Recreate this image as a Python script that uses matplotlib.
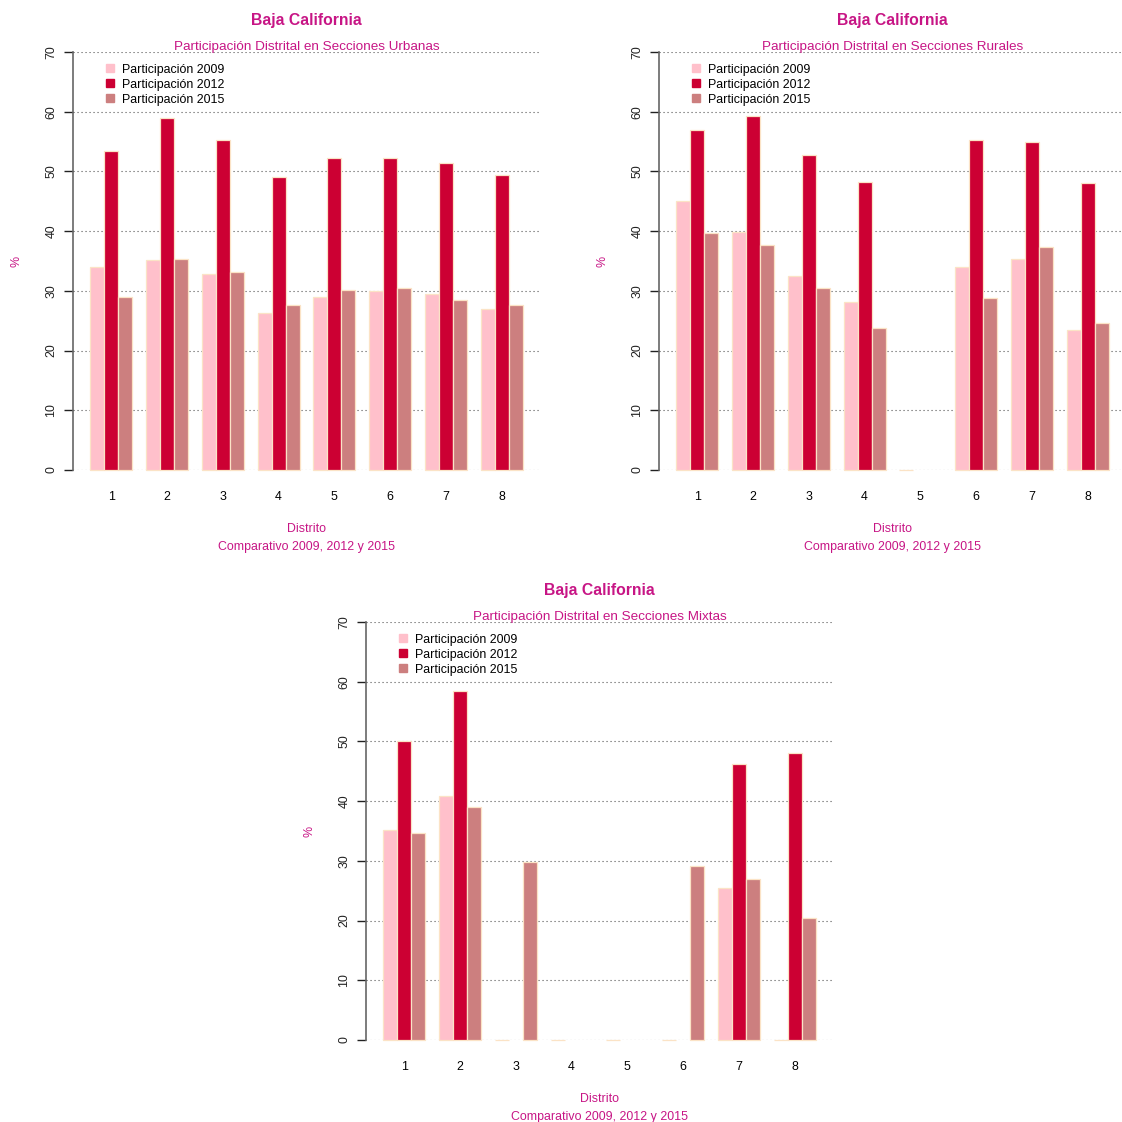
import numpy as np
import matplotlib.pyplot as plt
from matplotlib.lines import Line2D

plt.rcParams['font.family'] = ['Liberation Sans', 'DejaVu Sans']

distritos = ['1', '2', '3', '4', '5', '6', '7', '8']
years = ['Participación 2009', 'Participación 2012', 'Participación 2015']

# participation (%) per district, NaN = no bar drawn
urb_2009 = [34.0, 35.1, 32.8, 26.3, 29.0, 29.9, 29.5, 27.0]
urb_2012 = [53.4, 58.9, 55.3, 49.1, 52.3, 52.3, 51.4, 49.4]
urb_2015 = [28.9, 35.3, 33.2, 27.7, 30.1, 30.4, 28.5, 27.6]

rur_2009 = [45.1, 39.9, 32.5, 28.2, 0.0, 34.0, 35.3, 23.4]
rur_2012 = [57.0, 59.2, 52.8, 48.3, np.nan, 55.3, 55.0, 48.1]
rur_2015 = [39.7, 37.7, 30.4, 23.7, np.nan, 28.8, 37.3, 24.6]

mix_2009 = [35.2, 40.9, 0.0, 0.0, 0.0, 0.0, 25.4, 0.0]
mix_2012 = [50.0, 58.5, np.nan, np.nan, np.nan, np.nan, 46.2, 48.1]
mix_2015 = [34.7, 39.1, 29.8, np.nan, np.nan, 29.2, 27.0, 20.4]

colors = ['#FFC0CB', '#CC0033', '#CC7F7F']
edge = '#FBE3C6'
pink_txt = '#C71585'

W = H = 1122.0


def panel(px_left, px_top, subtitle, series):
    # plot region in pixels: 467 wide, 418 tall
    ax = plt.gcf().add_axes([px_left / W, 1 - (px_top + 418) / H, 467 / W, 418 / H])
    n = len(distritos)
    xlo, xhi = -0.24, 33.24
    for v in range(0, 71, 10):
        ax.plot([xlo, xhi], [v, v], color='#555555', lw=0.8, ls=(0, (1, 2.6)), zorder=1)
    for j, vals in enumerate(series):
        xs = [1 + 4 * i + j + 0.5 for i in range(n)]
        ax.bar(xs, vals, width=1, color=colors[j], edgecolor=edge, linewidth=0.9,
               zorder=2, clip_on=False)
    ax.set_xlim(xlo, xhi)
    ax.set_ylim(0, 70)
    ax.set_xticks([2.5 + 4 * i for i in range(n)])
    ax.set_xticklabels(distritos, fontsize=8.9)
    ax.tick_params(axis='x', length=0, pad=15)
    ax.set_yticks(range(0, 71, 10))
    ax.set_yticklabels([str(v) for v in range(0, 71, 10)], rotation=90, va='center',
                       fontsize=8.9, color='#222222')
    ax.tick_params(axis='y', length=6.3, width=1, pad=5, color='#222222')
    for s in ['top', 'right', 'bottom']:
        ax.spines[s].set_visible(False)
    ax.spines['left'].set_bounds(0, 70)
    ax.spines['left'].set_color('#666666')
    ax.spines['left'].set_linewidth(1.2)

    ax.annotate('Baja California', xy=(0.5, 1), xycoords='axes fraction',
                xytext=(0, 31), textcoords='offset pixels', ha='center', va='center',
                fontsize=11.3, fontweight='bold', color=pink_txt)
    ax.annotate(subtitle, xy=(0.5, 1), xycoords='axes fraction',
                xytext=(0, 5), textcoords='offset pixels', ha='center', va='center',
                fontsize=9.7, color=pink_txt)
    ax.annotate('Distrito', xy=(0.5, 0), xycoords='axes fraction',
                xytext=(0, -59), textcoords='offset pixels', ha='center', va='center',
                fontsize=8.9, color=pink_txt)
    ax.annotate('Comparativo 2009, 2012 y 2015', xy=(0.5, 0), xycoords='axes fraction',
                xytext=(0, -77), textcoords='offset pixels', ha='center', va='center',
                fontsize=8.9, color=pink_txt)
    ax.annotate('%', xy=(0, 0.5), xycoords='axes fraction',
                xytext=(-57, 0), textcoords='offset pixels', ha='center', va='center',
                rotation=90, fontsize=8.9, color=pink_txt)

    handles = [Line2D([], [], marker='s', ls='', color=c, markersize=5.5) for c in colors]
    ax.legend(handles, years, loc='upper left', bbox_to_anchor=(0.068, 0.972),
              frameon=False, fontsize=8.9, handlelength=0.9, handletextpad=0.5,
              labelspacing=0.24, borderpad=0, borderaxespad=0)
    return ax


fig = plt.figure(figsize=(11.22, 11.22), dpi=100)
panel(73, 52, 'Participación Distrital en Secciones Urbanas', [urb_2009, urb_2012, urb_2015])
panel(659, 52, 'Participación Distrital en Secciones Rurales', [rur_2009, rur_2012, rur_2015])
panel(366, 622, 'Participación Distrital en Secciones Mixtas', [mix_2009, mix_2012, mix_2015])

fig.savefig('out.png', dpi=100)
